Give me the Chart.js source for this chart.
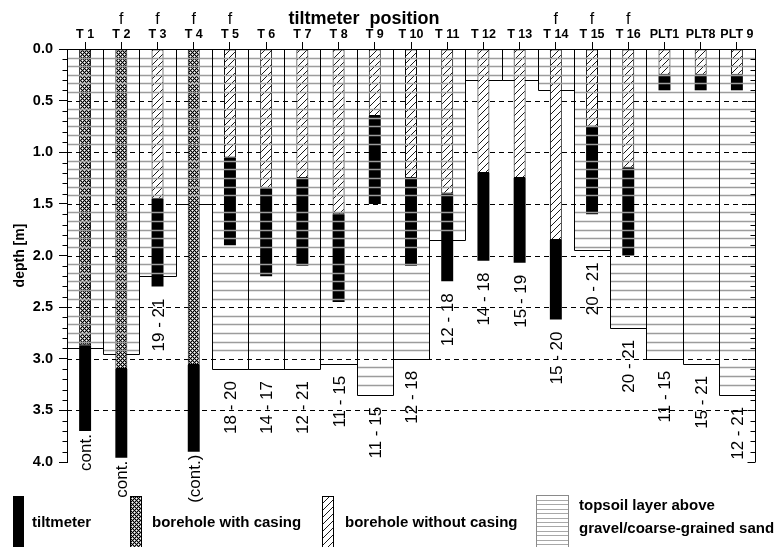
<!DOCTYPE html>
<html>
<head>
<meta charset="utf-8">
<script src="https://cdn.jsdelivr.net/npm/chart.js@4.4.1/dist/chart.umd.min.js"></script>
<style>
  html, body { margin: 0; padding: 0; background: #fff; }
  #wrap { width: 783px; height: 547px; position: relative; }
</style>
</head>
<body>
<div id="wrap"><canvas id="c" width="783" height="547"></canvas></div>
<script>
// Tiltmeter positions along the profile
const positions = ['T 1','T 2','T 3','T 4','T 5','T 6','T 7','T 8','T 9','T 10',
                   'T 11','T 12','T 13','T 14','T 15','T 16','PLT1','PLT8','PLT 9'];
// positions marked with "f"
const fMarks = ['', 'f', 'f', 'f', 'f', '', '', '', '', '', '', '', '', 'f', 'f', 'f', '', '', ''];
// depth of the topsoil layer above gravel / coarse-grained sand [m]
const topsoilDepth = [2.9, 2.95, 2.2, 1.5, 3.1, 3.1, 3.1, 3.05, 3.35, 3.0,
                      1.85, 0.3, 0.3, 0.4, 1.95, 2.7, 3.0, 3.05, 3.35];
// borehole with casing: bottom of casing [m]
const casedBorehole = [2.87, 3.1, null, 3.06, null, null, null, null, null, null,
                       null, null, null, null, null, null, null, null, null];
// borehole without casing: depth down to the tiltmeter [m]
const openBorehole = [null, null, 1.45, null, 1.05, 1.35, 1.25, 1.6, 0.65, 1.25,
                      1.4, 1.2, 1.25, 1.85, 0.75, 1.15, 0.25, 0.25, 0.25];
// tiltmeter top and bottom [m]
const tiltTop    = [2.87, 3.1, 1.45, 3.06, 1.05, 1.35, 1.25, 1.6, 0.65, 1.25,
                    1.4, 1.2, 1.25, 1.85, 0.75, 1.15, 0.25, 0.25, 0.25];
const tiltBottom = [3.7, 3.96, 2.3, 3.9, 1.9, 2.2, 2.1, 2.45, 1.5, 2.1,
                    2.25, 2.05, 2.07, 2.62, 1.6, 2.0, 0.4, 0.4, 0.4];
// recording period (hours) written below each position
const periodLabels = ['cont.', 'cont.', '19 - 21', '(cont.)', '18 - 20', '14 - 17', '12 - 21',
                      '11 - 15', '11 - 15', '12 - 18', '12 - 18', '14 - 18', '15 - 19',
                      '15 - 20', '20 - 21', '20 - 21', '11 - 15', '15 - 21', '12 - 21'];
// depth axis
const depthTicks = [0, 0.5, 1.0, 1.5, 2.0, 2.5, 3.0, 3.5, 4.0];
const titleText = 'tiltmeter  position';
const legendLabels = ['tiltmeter', 'borehole with casing', 'borehole without casing',
                      ['topsoil layer above', 'gravel/coarse-grained sand']];

const FONT = '"Liberation Sans", Arial, Helvetica, sans-serif';
const canvas = document.getElementById('c');
const ctx = canvas.getContext('2d');

function makeHatch() {
  const s = 7;
  const c = document.createElement('canvas');
  c.width = s; c.height = s;
  const g = c.getContext('2d');
  g.fillStyle = '#fff'; g.fillRect(0, 0, s, s);
  g.strokeStyle = '#000'; g.lineWidth = 0.9;
  g.beginPath();
  g.moveTo(0, s); g.lineTo(s, 0);
  g.moveTo(-2, 2); g.lineTo(2, -2);
  g.moveTo(s - 2, s + 2); g.lineTo(s + 2, s - 2);
  g.stroke();
  return ctx.createPattern(c, 'repeat');
}
// fine diagonal mesh for the cased boreholes
function makeCrossHatch() {
  const s = 4;
  const c = document.createElement('canvas');
  c.width = s; c.height = s;
  const g = c.getContext('2d');
  g.fillStyle = '#9a9a9a'; g.fillRect(0, 0, s, s);
  g.fillStyle = '#fff';
  g.fillRect(0, 2, 1, 1); g.fillRect(2, 0, 1, 1);
  g.fillStyle = '#000';
  for (let x = 0; x < s; x++) {
    for (let y = 0; y < s; y++) {
      if ((x + y) % s === 0 || (x - y + s) % s === 0) g.fillRect(x, y, 1, 1);
    }
  }
  return ctx.createPattern(c, 'repeat');
}
const hatch = makeHatch();
const crossHatch = makeCrossHatch();

const span = (a, b) => a.map((v, i) => (v == null || b[i] == null) ? null : [v, b[i]]);
const zeros = positions.map(() => 0);

const narrow = { barPercentage: 0.33, categoryPercentage: 1, grouped: false, borderSkipped: false };

// layering: dashed depth lines, column outlines, topsoil lines, frame and all text
const profilePlugin = {
  id: 'profile',
  beforeDatasetsDraw(chart) {
    const { ctx, chartArea: a, scales: { y } } = chart;
    ctx.save();
    ctx.strokeStyle = '#000';
    ctx.lineWidth = 1;
    ctx.setLineDash([5, 4]);
    depthTicks.forEach(d => {
      if (d <= 0 || d >= 4) return;
      const py = Math.round(y.getPixelForValue(d)) + 0.5;
      ctx.beginPath(); ctx.moveTo(a.left, py); ctx.lineTo(a.right, py); ctx.stroke();
    });
    ctx.restore();
  },
  afterDatasetDraw(chart, args) {
    if (args.index !== 0) return;
    const { ctx } = chart;
    ctx.save();
    ctx.strokeStyle = '#000';
    ctx.lineWidth = 1;
    args.meta.data.forEach(el => {
      const p = el.getProps(['x', 'y', 'base', 'width'], true);
      const l = Math.round(p.x - p.width / 2) + 0.5;
      const r = Math.round(p.x + p.width / 2) + 0.5;
      const b = Math.round(Math.max(p.y, p.base)) + 0.5;
      const t = Math.min(p.y, p.base);
      ctx.beginPath();
      ctx.moveTo(l, t); ctx.lineTo(l, b); ctx.lineTo(r, b); ctx.lineTo(r, t);
      ctx.stroke();
    });
    ctx.restore();
  },
  afterDatasetsDraw(chart) {
    const { ctx, chartArea: a, scales: { y } } = chart;
    // topsoil layer: grey horizontal lines over the box of each position
    const meta = chart.getDatasetMeta(0);
    ctx.save();
    ctx.strokeStyle = '#9c9c9c';
    ctx.lineWidth = 1.4;
    meta.data.forEach((el, i) => {
      const p = el.getProps(['x', 'width'], true);
      const l = Math.round(p.x - p.width / 2) + 1;
      const r = Math.round(p.x + p.width / 2);
      for (let k = 1; k / 12 < topsoilDepth[i] - 0.02; k++) {
        if (k % 6 === 0) continue;
        const py = Math.round(y.getPixelForValue(k / 12)) + 0.5;
        ctx.beginPath(); ctx.moveTo(l, py); ctx.lineTo(r, py); ctx.stroke();
      }
    });
    ctx.restore();

    // right frame line and minor/major ticks on both depth axes
    ctx.save();
    ctx.strokeStyle = '#000';
    ctx.lineWidth = 1;
    const rx = Math.round(a.right) + 0.5;
    ctx.beginPath(); ctx.moveTo(rx, a.top); ctx.lineTo(rx, a.bottom); ctx.stroke();
    const lx = Math.round(a.left) + 0.5;
    for (let k = 0; k <= 40; k++) {
      const major = k % 5 === 0;
      const py = Math.round(y.getPixelForValue(k / 10)) + 0.5;
      ctx.beginPath();
      if (!major) { ctx.moveTo(lx - 5, py); ctx.lineTo(lx, py); }
      ctx.moveTo(rx - (major ? 8 : 5), py); ctx.lineTo(rx, py);
      ctx.stroke();
    }
    ctx.restore();
  },
  afterDraw(chart) {
    const { ctx, chartArea: a, scales: { x, y } } = chart;
    ctx.save();
    ctx.fillStyle = '#000';
    // title above the positions
    ctx.font = 'bold 18px ' + FONT;
    ctx.textAlign = 'center';
    ctx.textBaseline = 'alphabetic';
    ctx.fillText(titleText, 364, 24);
    // "f" marks
    ctx.font = '16px ' + FONT;
    fMarks.forEach((m, i) => {
      if (m) ctx.fillText(m, x.getPixelForValue(i), 24);
    });
    // recording periods, rotated, below each position
    ctx.font = '17px ' + FONT;
    ctx.textAlign = 'right';
    periodLabels.forEach((lab, i) => {
      const deepest = Math.max(topsoilDepth[i], tiltBottom[i]);
      const gap = lab.indexOf('cont') >= 0 ? 3 : 12;
      const py = y.getPixelForValue(deepest) + gap;
      ctx.save();
      ctx.translate(x.getPixelForValue(i), py);
      ctx.rotate(-Math.PI / 2);
      ctx.fillText(lab, 0, 6);
      ctx.restore();
    });

    // legend
    ctx.font = 'bold 15px ' + FONT;
    ctx.textAlign = 'left';
    ctx.lineWidth = 1;
    // tiltmeter
    ctx.fillStyle = '#000';
    ctx.fillRect(13, 496, 11, 52);
    ctx.fillText(legendLabels[0], 32, 527);
    // borehole with casing
    ctx.fillStyle = crossHatch;
    ctx.fillRect(130, 496, 12, 52);
    ctx.strokeStyle = '#000';
    ctx.strokeRect(130.5, 496.5, 11, 52);
    ctx.fillStyle = '#000';
    ctx.fillText(legendLabels[1], 152, 527);
    // borehole without casing
    ctx.fillStyle = hatch;
    ctx.fillRect(322, 496, 12, 52);
    ctx.strokeRect(322.5, 496.5, 11, 52);
    ctx.fillStyle = '#000';
    ctx.fillText(legendLabels[2], 345, 527);
    // topsoil layer
    ctx.strokeStyle = '#8a8a8a';
    ctx.strokeRect(536.5, 495.5, 32, 53);
    ctx.strokeStyle = '#a8a8a8';
    for (let py = 500; py < 547; py += 4.4) {
      const yy = Math.round(py) + 0.5;
      ctx.beginPath(); ctx.moveTo(537, yy); ctx.lineTo(568, yy); ctx.stroke();
    }
    ctx.fillStyle = '#000';
    ctx.fillText(legendLabels[3][0], 579, 510);
    ctx.fillText(legendLabels[3][1], 579, 533);
    ctx.restore();
  }
};

new Chart(ctx, {
  type: 'bar',
  data: {
    labels: positions,
    datasets: [
      {
        label: 'topsoil layer above gravel/coarse-grained sand',
        data: span(zeros, topsoilDepth),
        backgroundColor: 'rgba(0,0,0,0)',
        borderWidth: 0,
        barPercentage: 1, categoryPercentage: 1, grouped: false,
        order: 4
      },
      Object.assign({
        label: 'borehole with casing',
        data: span(zeros, casedBorehole),
        backgroundColor: crossHatch,
        borderColor: '#000', borderWidth: 1,
        order: 3
      }, narrow),
      Object.assign({
        label: 'borehole without casing',
        data: span(zeros, openBorehole),
        backgroundColor: hatch,
        borderColor: '#000', borderWidth: 1,
        order: 3
      }, narrow),
      Object.assign({
        label: 'tiltmeter',
        data: span(tiltTop, tiltBottom),
        backgroundColor: '#000',
        borderColor: '#000', borderWidth: 0,
        order: 2
      }, narrow)
    ]
  },
  options: {
    responsive: false,
    animation: false,
    events: [],
    layout: { padding: { left: 0, right: 28, top: 0, bottom: 85 } },
    plugins: { legend: { display: false }, tooltip: { enabled: false } },
    scales: {
      x: {
        position: 'top',
        offset: true,
        grid: { display: true, drawOnChartArea: false, drawTicks: true, tickLength: 7,
                offset: false, color: '#000', tickColor: '#000', lineWidth: 1 },
        border: { display: true, color: '#000', width: 1, z: 1 },
        ticks: { color: '#000', font: { family: FONT, size: 12.5, weight: 'bold' },
                 padding: 0, maxRotation: 0, minRotation: 0, autoSkip: false },
        afterFit: s => { s.height = 49; }
      },
      y: {
        type: 'linear',
        reverse: true,
        min: 0, max: 4,
        afterBuildTicks: s => { s.ticks = depthTicks.map(v => ({ value: v })); },
        ticks: { color: '#000', font: { family: FONT, size: 14.5, weight: 'bold' },
                 padding: 6, callback: v => Number(v).toFixed(1) },
        grid: { display: true, drawOnChartArea: false, drawTicks: true, tickLength: 8,
                color: '#000', tickColor: '#000' },
        border: { display: true, color: '#000', width: 1, z: 1 },
        title: { display: true, text: 'depth [m]', color: '#000',
                 font: { family: FONT, size: 14, weight: 'bold' },
                 padding: { top: 12, bottom: 0 } },
        afterFit: s => { s.width = 67; }
      }
    }
  },
  plugins: [profilePlugin]
});
</script>
</body>
</html>
